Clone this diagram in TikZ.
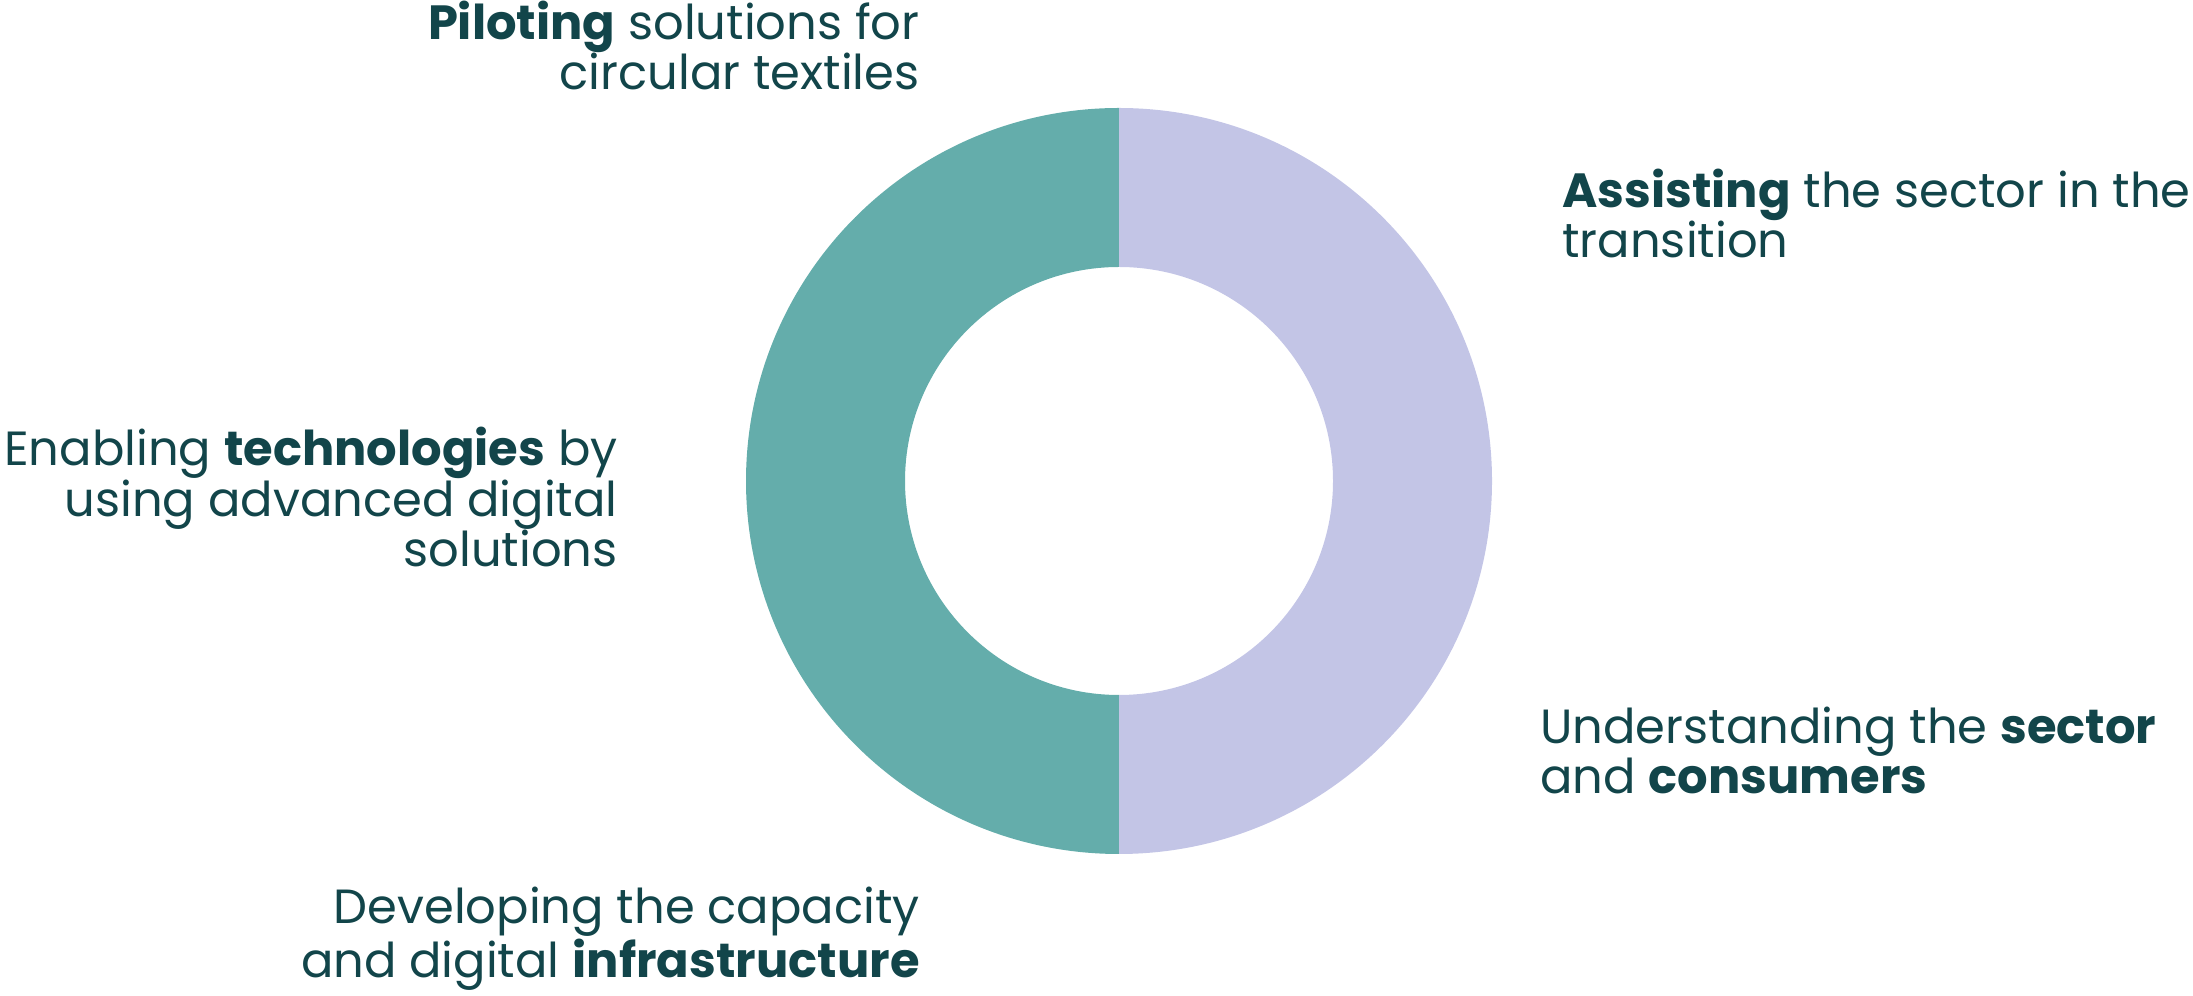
\documentclass[tikz,border=0pt]{standalone}
\usepackage{fontspec}
\setmainfont{Poppins}
\definecolor{txt}{HTML}{12454A}
\definecolor{teal}{HTML}{64ADAB}
\definecolor{lav}{HTML}{C3C5E6}
\begin{document}
\begin{tikzpicture}[x=0.5pt,y=0.5pt,
  lbl/.style={inner sep=0pt,text=txt,font=\fontsize{24}{25.4}\selectfont},
  lblr/.style={lbl,align=right,anchor=base east},
  lbll/.style={lbl,align=left,anchor=base west}]
\useasboundingbox (0,0) rectangle (2193,995);
\coordinate (c) at (1119,514);
\fill[teal] (1119,887) arc (90:270:373) -- (1119,300) arc (270:90:214) -- cycle;
\fill[lav] (1119,887) arc (90:-90:373) -- (1119,300) arc (-90:90:214) -- cycle;
% anchors are at the baseline of each block's last line
\node[lblr] (pil) at (920,905) {\textbf{Piloting} solutions for\\circular textiles};
\node[lbll] (ass) at (1562,737) {\textbf{Assisting} the sector in the\\transition};
\node[lblr] (ena) at (618,428) {Enabling \textbf{technologies} by\\using advanced digital\\solutions};
\node[lbll] (und) at (1540,201) {Understanding the \textbf{sector}\\and \textbf{consumers}};
\node[lblr] (dev) at (920,18) {Developing the capacity\\and digital \textbf{infrastructure}};
\end{tikzpicture}
\end{document}
